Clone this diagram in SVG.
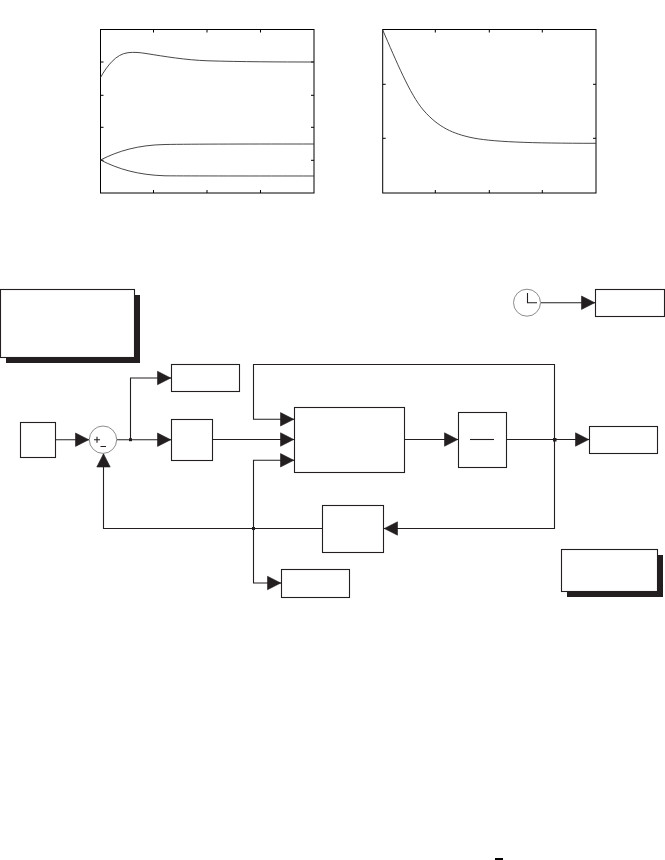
<svg xmlns="http://www.w3.org/2000/svg" width="665" height="860" viewBox="0 0 665 860">
<style>
.b{fill:#fff;stroke:#231f20;stroke-width:1.1}
.w{fill:none;stroke:#231f20;stroke-width:1.1}
.s{fill:#231f20;stroke:none}
.h{fill:#231f20;stroke:#231f20;stroke-width:.6;stroke-linejoin:round}
.p{fill:none;stroke:#000;stroke-width:1}
.c{fill:none;stroke:#333;stroke-width:.9}
.t{fill:#fff;stroke:#6d6e71;stroke-width:.8}
</style>
<defs>
<marker id="a" markerUnits="userSpaceOnUse" markerWidth="16" markerHeight="16" viewBox="-1 -1 16 16" refX="13.5" refY="7" orient="auto" overflow="visible"><path class="h" d="M0 0.3L13.2 7L0 13.7Z"/></marker>
</defs>
<rect width="665" height="860" fill="#fff"/>
<g id="plot-left">
<rect class="p" x="100.5" y="29.5" width="213.5" height="163.5"/>
<path class="p" d="M153.5 29.5v3M207 29.5v3M260.5 29.5v3M153.5 193v-3M207 193v-3M260.5 193v-3M100.5 62h3M100.5 95.3h3M100.5 127.3h3M100.5 160.3h3M314 62h-3M314 95.3h-3M314 127.3h-3M314 160.3h-3"/>
<path class="c" d="M100.5 77.5C107 66 116 54 128 52.7C134 52 140 52.5 146 53.5C165 56.5 185 60 208 60.8C240 61.8 280 62 314 62"/>
<path class="c" d="M100.5 160C118 151 138 145 165 144.5C190 144 260 144 314 144"/>
<path class="c" d="M100.5 160C118 169 138 175 165 175.8C190 176 260 176 314 176"/>
</g>
<g id="plot-right">
<rect class="p" x="382.7" y="29.5" width="213.3" height="163.5"/>
<path class="p" d="M435.3 29.5v3M489.3 29.5v3M542.3 29.5v3M435.3 193v-3M489.3 193v-3M542.3 193v-3M382.7 84.3h3M382.7 138.3h3M596 84.3h-3M596 138.3h-3"/>
<path class="c" d="M382.7 30C396.2 61 409.8 94.2 423.3 110C438.9 128.2 454.4 133.7 470 137.3C490 141.9 530 143.3 596 143.3"/>
</g>
<g id="connectors">
<path class="w" marker-end="url(#a)" d="M56 439.7H89"/>
<path class="w" marker-end="url(#a)" d="M117 439.7H171"/>
<path class="w" marker-end="url(#a)" d="M130.5 439.7V378H171"/>
<path class="w" marker-end="url(#a)" d="M213 439.5H294"/>
<path class="w" marker-end="url(#a)" d="M404.5 439.5H458"/>
<path class="w" marker-end="url(#a)" d="M507 439.5H589"/>
<path class="w" marker-end="url(#a)" d="M554.5 439.5V364.5H253.5V419.3H294"/>
<path class="w" marker-end="url(#a)" d="M554.5 439.5V528.5H384"/>
<path class="w" marker-end="url(#a)" d="M322 528.5H103.5V453.5"/>
<path class="w" marker-end="url(#a)" d="M253.5 528.5V460.3H294"/>
<path class="w" marker-end="url(#a)" d="M253.5 528.5V583H281"/>
<path class="w" marker-end="url(#a)" d="M541 302.7H595"/>
<rect class="s" x="129" y="438.2" width="3" height="3"/>
<rect class="s" x="553" y="438" width="3.5" height="3.5"/>
<rect class="s" x="252" y="527" width="3" height="3"/>
</g>
<g id="note-left"><rect class="s" x="6" y="295" width="134" height="68"/><rect class="b" x="0.5" y="289.5" width="134" height="68"/></g>
<g id="scope-top"><rect class="b" x="171.5" y="364.5" width="68" height="27"/></g>
<g id="input"><rect class="b" x="20.5" y="422.5" width="35" height="35"/></g>
<g id="sum"><circle class="t" cx="103" cy="439.7" r="13.7"/><path class="w" d="M94 439.7h6M97 436.7v6M100.5 446.5h5.5"/></g>
<g id="gain"><rect class="b" x="171.5" y="419.5" width="41" height="41"/></g>
<g id="plant"><rect class="b" x="294.5" y="407.5" width="110" height="65"/></g>
<g id="integrator"><rect class="b" x="458.5" y="412.5" width="48" height="55"/><path class="w" d="M470 439.5h24"/></g>
<g id="scope-right"><rect class="b" x="589.5" y="426.5" width="68" height="27"/></g>
<g id="feedback"><rect class="b" x="322.5" y="505.5" width="61" height="47"/></g>
<g id="scope-bottom"><rect class="b" x="281.5" y="569.5" width="68" height="28"/></g>
<g id="note-right"><rect class="s" x="567" y="555" width="96" height="42"/><rect class="b" x="561.5" y="549.5" width="96" height="42"/></g>
<g id="clock"><circle class="t" cx="527" cy="302.7" r="13.5"/><path class="w" d="M527.5 293V302.7H537"/></g>
<g id="scope-clock"><rect class="b" x="595.5" y="289.5" width="69" height="27"/></g>
<g id="mark"><rect x="495" y="858" width="8" height="2" fill="#000"/></g>
</svg>
